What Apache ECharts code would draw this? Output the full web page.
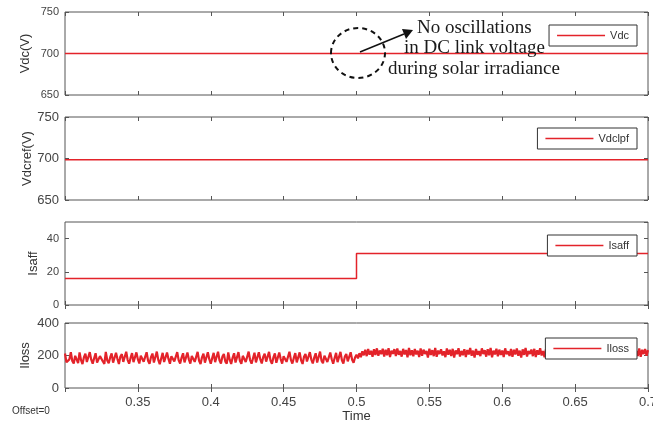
<!DOCTYPE html>
<html>
<head>
<meta charset="utf-8">
<script src="https://cdn.jsdelivr.net/npm/echarts@6/dist/echarts.min.js"></script>
<style>
  html, body { margin: 0; padding: 0; background: #fff; }
  #chart { width: 653px; height: 421px; }
</style>
</head>
<body>
<div id="chart"></div>
<script>
// time axis
const timeTicks = [0.35, 0.4, 0.45, 0.5, 0.55, 0.6, 0.65, 0.7];

// Vdc and Vdclpf are flat traces
const vdcTime = [0.3, 0.7];
const vdcValues = [700, 700];
const vdclpfTime = [0.3, 0.4, 0.5, 0.6, 0.7];
const vdclpfValues = [698.5, 698.4, 698.5, 698.4, 698.5];

// Isaff steps up at t = 0.5
const isaffTime = [0.3, 0.5, 0.5, 0.7];
const isaffValues = [16, 16, 31, 31];

// Iloss sampled every 1 ms from 0.3 s
const ilossStart = 0.3;
const ilossStep = 0.001;
const ilossValues = [
  212,158,149,176,220,166,151,198,187,153,
  219,171,147,189,211,160,154,221,174,150,
  183,214,157,150,196,206,163,149,222,169,
  152,188,213,156,151,217,178,148,194,208,
  161,153,223,172,150,185,215,159,148,219,
  176,151,199,204,162,152,220,168,149,190,
  212,157,154,224,173,147,182,216,160,150,
  218,179,149,195,207,164,153,221,170,151,
  187,214,158,149,218,175,150,197,205,161,
  152,222,167,148,189,212,156,153,220,177,
  150,184,216,159,149,223,171,151,193,209,
  163,150,219,174,148,186,214,157,152,221,
  168,149,198,206,160,153,224,172,150,183,
  217,158,148,220,176,151,191,211,162,152,
  222,169,149,188,213,155,154,218,178,150,
  196,207,161,149,223,173,151,185,215,158,
  150,219,170,148,192,210,163,153,221,175,
  151,187,214,157,149,224,168,152,199,204,
  160,151,218,177,149,184,216,159,153,222,
  171,150,193,209,164,152,220,174,155,188,
  205,182,214,190,226,201,235,196,240,205,
  229,192,238,203,244,198,231,208,242,194,
  236,201,245,190,230,210,239,197,243,204,
  228,193,241,206,234,189,246,202,232,195,
  240,207,229,191,244,199,236,210,227,188,
  242,203,233,196,247,192,230,209,238,200,
  226,190,243,205,235,197,241,187,231,208,
  245,194,228,202,239,191,234,206,246,198,
  230,188,240,204,227,196,244,209,233,193,
  238,201,247,189,229,207,242,195,236,203,
  231,190,244,208,226,197,240,192,235,206,
  243,199,230,187,238,204,246,194,228,209,
  237,196,241,191,232,205,245,200,227,189,
  239,208,234,193,247,198,229,203,242,190,
  233,206,244,195,228,201,240,188,236,207,
  246,192,231,204,239,197,243,209,226,194,
  238,200,245,189,230,206,235,196,241,203,
  229,191,247,208,234,193,240,199,227,205,
  244,188,232,202,238,195,246,207,231,190,
  237,204,228,197,243,192,235,209,240,198,
  233
];

const panelNames = ['Vdc(V)', 'Vdcref(V)', 'Isaff', 'Iloss'];
const seriesNames = ['Vdc', 'Vdclpf', 'Isaff', 'Iloss'];
const yMin = [650, 650, 0, 0];
const yMax = [750, 750, 50, 400];
const yInterval = [50, 50, 20, 200];

const RED = '#e3232a';
const AXIS = '#555';

function zip(xs, ys) {
  return xs.map((x, i) => [x, ys[i]]);
}

const ilossData = ilossValues.map((v, i) => [+(ilossStart + i * ilossStep).toFixed(4), v]);
const seriesData = [
  zip(vdcTime, vdcValues),
  zip(vdclpfTime, vdclpfValues),
  zip(isaffTime, isaffValues),
  ilossData
];

const grids = [
  { left: 65, right: 5, top: 12, height: 83 },
  { left: 65, right: 5, top: 117, height: 83 },
  { left: 65, right: 5, top: 222, height: 83 },
  { left: 65, right: 5, top: 323, height: 65 }
].map(g => Object.assign(g, {
  show: true, borderColor: AXIS, borderWidth: 1, backgroundColor: '#fff',
  containLabel: false, outerBoundsMode: 'none'
}));

const yLabelSize = [11, 13, 11, 13];
const nameGaps = [33, 31, 25, 33];

const xAxes = [];
const yAxes = [];
const series = [];
const legends = [];
const legendTops = [25, 128, 235, 338];

for (let i = 0; i < 4; i++) {
  const bottom = i === 3;
  xAxes.push({
    type: 'value', gridIndex: i, min: 0.3, max: 0.7, interval: 0.05,
    axisLine: { show: false },
    axisTick: { show: true, inside: true, length: 4, lineStyle: { color: AXIS } },
    axisLabel: { show: bottom, showMinLabel: false, color: '#444', fontSize: 13, margin: 8,
      fontFamily: 'Liberation Sans' },
    splitLine: { show: false },
    name: bottom ? 'Time' : '', nameLocation: 'middle', nameGap: 22, nameMoveOverlap: false,
    nameTextStyle: { color: '#333', fontSize: 13, fontFamily: 'Liberation Sans' }
  });
  xAxes.push({
    type: 'value', gridIndex: i, min: 0.3, max: 0.7, interval: 0.05, position: 'top',
    axisLine: { show: false },
    axisTick: { show: true, inside: true, length: 4, lineStyle: { color: AXIS } },
    axisLabel: { show: false }, splitLine: { show: false }
  });
  yAxes.push({
    type: 'value', gridIndex: i, min: yMin[i], max: yMax[i], interval: yInterval[i],
    axisLine: { show: false },
    axisTick: { show: true, inside: true, length: 4, lineStyle: { color: AXIS } },
    axisLabel: { color: '#444', fontSize: yLabelSize[i], margin: 6, showMaxLabel: i !== 2,
      fontFamily: 'Liberation Sans' },
    splitLine: { show: false },
    name: panelNames[i], nameLocation: 'middle', nameGap: nameGaps[i], nameRotate: 90,
    nameMoveOverlap: false,
    nameTextStyle: { color: '#333', fontSize: 13, fontFamily: 'Liberation Sans' }
  });
  yAxes.push({
    type: 'value', gridIndex: i, min: yMin[i], max: yMax[i], interval: yInterval[i], position: 'right',
    axisLine: { show: false },
    axisTick: { show: true, inside: true, length: 4, lineStyle: { color: AXIS } },
    axisLabel: { show: false }, splitLine: { show: false }
  });
  series.push({
    name: seriesNames[i], type: 'line', xAxisIndex: i * 2, yAxisIndex: i * 2,
    data: seriesData[i], symbol: 'none', animation: false,
    lineStyle: { color: RED, width: i === 3 ? 2.2 : 1.5 },
    itemStyle: { color: RED }
  });
  legends.push({
    data: [seriesNames[i]], right: 16, top: legendTops[i],
    orient: 'horizontal', icon: 'rect', itemWidth: 48, itemHeight: 1.5, itemGap: 4,
    padding: [5, 8, 5, 8], borderColor: '#333', borderWidth: 1, backgroundColor: '#fff',
    itemStyle: { color: RED },
    textStyle: { color: '#333', fontSize: 11, fontFamily: 'Liberation Sans' }
  });
}

const serif = { fontFamily: 'Liberation Serif', fontSize: 19, fill: '#1a1a1a' };

const option = {
  backgroundColor: '#fff',
  animation: false,
  grid: grids,
  xAxis: xAxes,
  yAxis: yAxes,
  legend: legends,
  series: series,
  graphic: [
    { type: 'ellipse', shape: { cx: 358, cy: 53, rx: 27, ry: 25 }, z: 100,
      style: { fill: 'none', stroke: '#111', lineWidth: 2, lineDash: [5, 4] } },
    { type: 'line', shape: { x1: 360, y1: 52, x2: 404, y2: 34 }, z: 100,
      style: { stroke: '#111', lineWidth: 1.5 } },
    { type: 'polygon', shape: { points: [[413, 30], [402, 29], [406, 39]] }, z: 100,
      style: { fill: '#111' } },
    { type: 'text', left: 417, top: 19, z: 100, style: Object.assign({ text: 'No oscillations' }, serif) },
    { type: 'text', left: 404, top: 39, z: 100, style: Object.assign({ text: 'in DC link voltage' }, serif) },
    { type: 'text', left: 388, top: 60, z: 100, style: Object.assign({ text: 'during solar irradiance' }, serif) },
    { type: 'text', left: 12, top: 406, z: 100,
      style: { text: 'Offset=0', fontFamily: 'Liberation Sans', fontSize: 10, fill: '#333' } }
  ]
};

const chart = echarts.init(document.getElementById('chart'));
chart.setOption(option);
</script>
</body>
</html>
